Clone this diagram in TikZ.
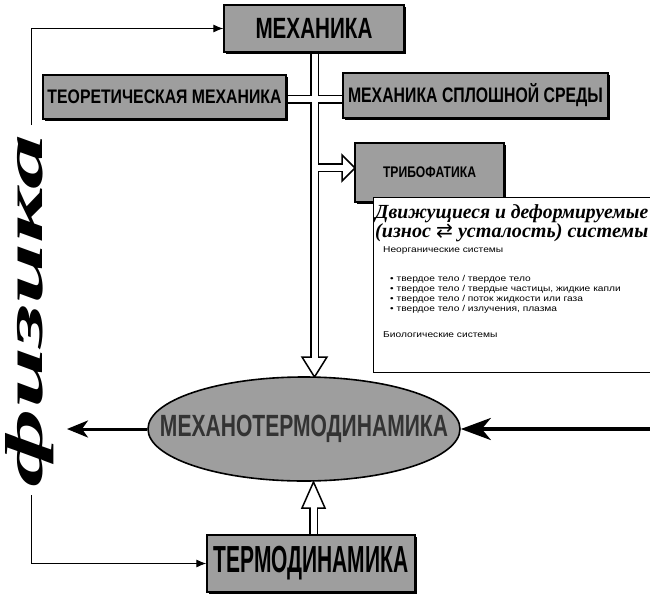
\documentclass[tikz,border=0pt]{standalone}
\usepackage{fontspec}
\setmainfont{Liberation Sans}
\newfontfamily\serifcyr{Liberation Serif}
\newfontfamily\symf{DejaVu Sans}
\usetikzlibrary{arrows.meta,shapes.geometric,shadows}
\pgfdeclarelayer{bg}
\pgfsetlayers{bg,main}
\newcommand{\lbl}[3]{\resizebox{#1pt}{\height}{\fontsize{#2}{#2}\selectfont\bfseries #3}}
\newcommand{\sml}[1]{\scalebox{1.2}[1]{\fontsize{8.5}{8.5}\selectfont #1}}
\begin{document}
\begin{tikzpicture}[x=1pt,y=-1pt,
  gbox/.style={draw=black,line width=1.4pt,fill=black!38,inner sep=0pt,
    drop shadow={shadow xshift=1.5pt,shadow yshift=-1.5pt,fill=black,opacity=1}},
  chanout/.style={line width=9pt,black},
  chanin/.style={line width=6pt,white},
  headst/.style={draw=black,line width=1.5pt,fill=white,line join=miter},
  framearrow/.style={line width=0.9pt,-{Latex[length=10pt,width=8pt]}},
  txt/.style={anchor=west,inner sep=0pt}]
\useasboundingbox (0,0) rectangle (650,597);
\begin{pgfonlayer}{bg}
  \fill[white] (0,0) rectangle (650,597);
  % channels (black outer)
  \draw[chanout] (314.5,50) -- (314.5,358);
  \draw[chanout] (284,99) -- (345,99);
  \draw[chanout] (314.5,167.5) -- (343,167.5);
  \draw[chanout] (313.5,537) -- (313.5,507);
  % hollow heads
  \filldraw[headst] (302,357) -- (314.5,377) -- (327,357) -- cycle;
  \filldraw[headst] (342,155) -- (355,168) -- (342,181) -- cycle;
  \filldraw[headst] (302,508) -- (313.5,482) -- (325,508) -- cycle;
  % channels (white inner)
  \draw[chanin] (314.5,50) -- (314.5,359.5);
  \draw[chanin] (284,99) -- (345,99);
  \draw[chanin] (314.5,167.5) -- (344.5,167.5);
  \draw[chanin] (313.5,537) -- (313.5,505.5);
\end{pgfonlayer}

% boxes
\node[gbox,minimum width=180pt,minimum height=47pt] (mech) at (314,28.5) {\lbl{117}{29.3}{МЕХАНИКА}};
\node[gbox,minimum width=243pt,minimum height=44pt] (teor) at (164.5,97) {\lbl{234}{19.6}{ТЕОРЕТИЧЕСКАЯ МЕХАНИКА}};
\node[gbox,minimum width=265pt,minimum height=45pt] (splosh) at (475.5,95.5) {\lbl{255}{21}{МЕХАНИКА СПЛОШНОЙ СРЕДЫ}};
\node[gbox,minimum width=149pt,minimum height=59pt] (tribo) at (429.5,172.5) {\lbl{93}{15.4}{ТРИБОФАТИКА}};
\node[gbox,minimum width=208pt,minimum height=57pt] (termo) at (311,563.5) {\lbl{195}{37.7}{ТЕРМОДИНАМИКА}};
\node[ellipse,draw=black,line width=1.6pt,fill=black!38,minimum width=312pt,minimum height=104pt,inner sep=0pt] (mtd) at (304,429)
  {\makebox[0pt]{\color{black!80}\lbl{288}{30.7}{МЕХАНОТЕРМОДИНАМИКА}}};

% information panel
\node[draw=black,line width=0.8pt,fill=white,minimum width=282pt,minimum height=175pt,anchor=north west,inner sep=0pt] (info) at (373,197) {};
\node[anchor=base west,inner sep=0pt] (t1) at (375,218)
  {\resizebox{273pt}{\height}{\fontsize{20}{20}\selectfont\serifcyr\bfseries\itshape Движущиеся и деформируемые}};
\node[anchor=base west,inner sep=0pt] (t2) at (375,237)
  {\resizebox{273pt}{\height}{\fontsize{20}{20}\selectfont\serifcyr\bfseries\itshape (износ {\symf\mdseries\upshape ⇄} усталость) системы}};
\node[txt] (inorg) at (383,250) {\sml{Неорганические системы}};
\node[txt] (b1) at (390,279) {\sml{• твердое тело / твердое тело}};
\node[txt] (b2) at (390,289) {\sml{• твердое тело / твердые частицы, жидкие капли}};
\node[txt] (b3) at (390,299) {\sml{• твердое тело / поток жидкости или газа}};
\node[txt] (b4) at (390,309) {\sml{• твердое тело / излучения, плазма}};
\node[txt] (bio) at (383,335) {\sml{Биологические системы}};

% physics label and frame
\node[rotate=90,anchor=base,inner sep=0pt] (fiz) at (42,311)
  {\resizebox{352pt}{37pt}{\serifcyr\itshape\bfseries физика}};
\coordinate (fizTop) at (31,125);
\coordinate (fizBot) at (31,495);
\draw[framearrow] (fizTop) |- (mech.west);
\draw[framearrow] (fizBot) |- (termo.west);

% thick arrows
\coordinate (leftEnd) at (67,429);
\coordinate (rightStart) at (652,429);
\draw[line width=3pt,-{Stealth[length=21pt,width=17pt,inset=6pt]}] (mtd.west) -- (leftEnd);
\draw[line width=4pt,-{Stealth[length=30pt,width=22pt,inset=9pt]}] (rightStart) -- (mtd.east);
\end{tikzpicture}
\end{document}
